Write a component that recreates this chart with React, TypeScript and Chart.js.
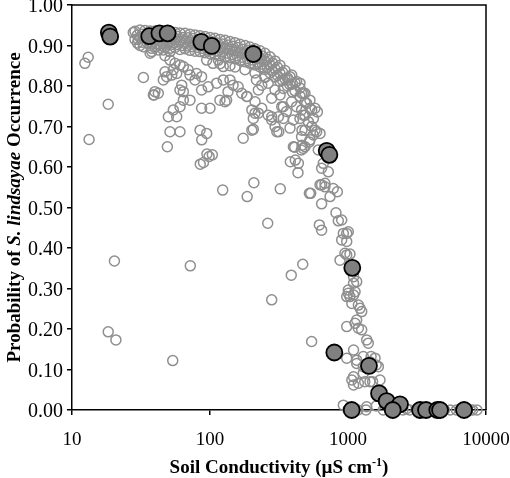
import React, { useEffect, useRef } from "react";
import { Chart, registerables } from "chart.js";

Chart.register(...registerables);

// Observed occurrence (filled circles): [conductivity µS/cm, probability]
const observedPoints: [number, number][] = [
  [18.5, 0.932], [18.9, 0.922], [36.3, 0.923], [43, 0.93], [49.3, 0.93],
  [86.5, 0.909], [103, 0.899], [206, 0.879], [701, 0.64], [733, 0.63],
  [1074, 0.351], [796, 0.142], [1419, 0.109], [1679, 0.041], [1906, 0.022],
  [2380, 0.014], [1064, 0.0], [2110, 0.0], [3327, 0.0], [3675, 0.0],
  [4436, 0.0], [4645, 0.0], [6934, 0.0],
];

// Predicted probabilities, dense upper band
const bandPoints: [number, number][] = [
  [28.6, 0.935], [28.6, 0.915], [31.1, 0.938], [31.1, 0.92], [31.1, 0.9],
  [33.8, 0.937], [33.8, 0.918], [36.8, 0.936], [36.8, 0.92], [36.8, 0.9],
  [39.9, 0.936], [39.9, 0.915], [39.9, 0.895], [43.4, 0.935], [43.4, 0.918],
  [43.4, 0.9], [47.2, 0.934], [47.2, 0.915], [47.2, 0.895], [47.2, 0.875],
  [51.3, 0.933], [51.3, 0.912], [51.3, 0.893], [55.8, 0.932], [55.8, 0.914],
  [55.8, 0.895], [60.6, 0.931], [60.6, 0.91], [60.6, 0.89], [65.9, 0.93],
  [65.9, 0.91], [65.9, 0.892], [71.6, 0.928], [71.6, 0.908], [71.6, 0.888],
  [77.9, 0.926], [77.9, 0.906], [77.9, 0.886], [84.6, 0.924], [84.6, 0.905],
  [84.6, 0.885], [92, 0.922], [92, 0.902], [92, 0.882], [100, 0.92],
  [100, 0.9], [100, 0.88], [108.7, 0.918], [108.7, 0.898], [108.7, 0.878],
  [118.2, 0.915], [118.2, 0.895], [118.2, 0.875], [118.2, 0.855], [128.5, 0.913],
  [128.5, 0.893], [128.5, 0.872], [139.6, 0.91], [139.6, 0.89], [139.6, 0.87],
  [139.6, 0.85], [151.8, 0.907], [151.8, 0.887], [151.8, 0.867], [151.8, 0.847],
  [165, 0.903], [165, 0.883], [165, 0.863], [179.3, 0.9], [179.3, 0.88],
  [179.3, 0.86], [179.3, 0.84], [195, 0.896], [195, 0.876], [195, 0.856],
  [211.9, 0.892], [211.9, 0.872], [211.9, 0.852], [211.9, 0.832], [230.3, 0.887],
  [230.3, 0.867], [230.3, 0.847], [250.4, 0.881], [250.4, 0.861], [250.4, 0.841],
  [250.4, 0.821], [272.2, 0.872], [272.2, 0.852], [272.2, 0.832], [295.8, 0.862],
  [295.8, 0.842], [295.8, 0.822], [321.6, 0.851], [321.6, 0.831], [321.6, 0.811],
  [349.6, 0.838], [349.6, 0.818], [379.9, 0.823], [379.9, 0.803], [413, 0.808],
  [413, 0.788], [449, 0.795], [449, 0.775], [488, 0.782], [488, 0.76],
  [530, 0.765], [530, 0.745], [577, 0.745], [600, 0.736],
];

// Predicted probabilities, infill of the upper band
const bandInfillPoints: [number, number][] = [
  [29.8, 0.926], [29.8, 0.906], [32.4, 0.928], [32.4, 0.908], [35.2, 0.927],
  [35.2, 0.907], [38.3, 0.926], [38.3, 0.906], [41.7, 0.926], [41.7, 0.905],
  [45.3, 0.925], [45.3, 0.905], [49.2, 0.924], [49.2, 0.903], [53.5, 0.923],
  [53.5, 0.903], [58.1, 0.922], [58.1, 0.902], [63.2, 0.92], [63.2, 0.9],
  [68.7, 0.919], [68.7, 0.899], [74.7, 0.917], [74.7, 0.897], [81.2, 0.915],
  [81.2, 0.895], [88.2, 0.913], [88.2, 0.893], [95.9, 0.911], [95.9, 0.891],
  [104.3, 0.909], [104.3, 0.889], [113.3, 0.906], [113.3, 0.886], [123.2, 0.904],
  [123.2, 0.884], [133.9, 0.901], [133.9, 0.881], [145.5, 0.898], [145.5, 0.878],
  [158.2, 0.895], [158.2, 0.875], [172, 0.891], [172, 0.871], [187, 0.888],
  [187, 0.868], [203, 0.884], [203, 0.864], [221, 0.879], [221, 0.859],
  [240, 0.874], [240, 0.854], [261, 0.866], [261, 0.846], [284, 0.857],
  [284, 0.837], [308, 0.846], [308, 0.826], [335, 0.834], [335, 0.814],
  [364, 0.82], [364, 0.8], [396, 0.805], [396, 0.785],
];

// Predicted probabilities, scattered below the band (low conductivity)
const scatterPoints: [number, number][] = [
  [12.4, 0.856], [13.1, 0.871], [13.3, 0.668], [18.3, 0.755], [27.8, 0.932],
  [30.2, 0.915], [32.9, 0.821], [32.9, 0.897], [39.3, 0.778], [42.2, 0.782],
  [37.8, 0.885], [37.8, 0.893], [42.2, 0.889], [36.8, 0.881], [45.9, 0.889],
  [51.3, 0.885], [51.3, 0.864], [55.8, 0.856], [60.6, 0.852], [54.2, 0.84],
  [47.2, 0.835], [48.5, 0.823], [52.8, 0.827], [57.4, 0.831], [45.9, 0.815],
  [62.4, 0.802], [60.6, 0.79], [64.1, 0.786], [39.9, 0.786], [38.9, 0.778],
  [64.1, 0.765], [71.6, 0.765], [60.6, 0.749], [57.4, 0.724], [49.9, 0.724],
  [54.2, 0.741], [64.1, 0.848], [69.4, 0.84], [71.6, 0.827], [80, 0.831],
  [77.9, 0.815], [86.9, 0.823], [94.6, 0.864], [105, 0.856], [115, 0.864],
  [124.8, 0.848], [86.9, 0.79], [97, 0.798], [111.7, 0.807], [124.8, 0.815],
  [118, 0.765], [132, 0.765], [86.9, 0.745], [100, 0.745], [51.3, 0.687],
  [60.6, 0.687], [49.1, 0.65], [84.7, 0.691], [87.1, 0.667], [94.6, 0.683],
  [85, 0.607], [89.7, 0.611], [95, 0.632], [98.5, 0.626], [104, 0.63],
  [123.6, 0.543], [186, 0.527], [208, 0.561], [174, 0.671], [206, 0.693],
  [186, 0.774], [139.6, 0.815], [147, 0.802], [135, 0.786], [160, 0.798],
  [170, 0.782], [128.5, 0.761], [184.5, 0.774], [212, 0.761], [201, 0.741],
  [224, 0.79], [237, 0.802], [217, 0.815], [250, 0.823], [264, 0.807],
  [296, 0.79], [322, 0.778], [340, 0.794], [280, 0.77], [331, 0.749],
  [313, 0.724], [358, 0.737], [340, 0.72], [224, 0.733], [206, 0.72],
  [264, 0.728], [280, 0.716], [201, 0.691], [296, 0.7], [305, 0.687],
  [340, 0.749], [237, 0.745], [212, 0.733], [280, 0.724], [262, 0.461],
  [315, 0.687], [323, 0.546], [411, 0.649], [464, 0.654], [459, 0.642],
  [525, 0.662], [382, 0.613], [415, 0.617], [434, 0.586], [525, 0.535],
  [20.3, 0.368], [72, 0.356], [470, 0.36], [388, 0.333], [18.3, 0.193],
  [20.8, 0.173], [53.7, 0.122], [280, 0.272], [545, 0.169], [391, 0.827],
  [369, 0.815], [424, 0.811], [461, 0.782], [402, 0.65], [437, 0.609],
];

// Predicted probabilities, steep decline and zero row (high conductivity)
const declinePoints: [number, number][] = [
  [390, 0.761], [424, 0.749], [461, 0.741], [488, 0.728], [449, 0.72],
  [516, 0.712], [546, 0.7], [577, 0.691], [488, 0.691], [402, 0.716],
  [380, 0.696], [461, 0.675], [561, 0.679], [627, 0.683], [449, 0.807],
  [474, 0.782], [502, 0.757], [546, 0.741], [474, 0.728], [561, 0.72],
  [593, 0.687], [464, 0.691], [531, 0.667], [488, 0.65], [474, 0.646],
  [609, 0.642], [644, 0.597], [720, 0.588], [662, 0.609], [627, 0.556],
  [681, 0.56], [782, 0.547], [644, 0.556], [681, 0.551], [537, 0.535],
  [741, 0.527], [837, 0.539], [644, 0.509], [818, 0.487], [851, 0.467],
  [900, 0.469], [620, 0.457], [644, 0.444], [925, 0.436], [979, 0.436],
  [900, 0.42], [979, 0.416], [950, 0.387], [1033, 0.385], [875, 0.37],
  [979, 0.383], [1005, 0.44], [1097, 0.329], [1156, 0.317], [1005, 0.296],
  [1125, 0.292], [1033, 0.28], [1066, 0.263], [1189, 0.259], [1222, 0.251],
  [979, 0.28], [1097, 0.313], [1005, 0.288], [1097, 0.284], [1257, 0.243],
  [1156, 0.222], [1189, 0.202], [1257, 0.198], [979, 0.206], [1125, 0.214],
  [1366, 0.173], [1403, 0.165], [1097, 0.148], [979, 0.128], [1156, 0.123],
  [1291, 0.132], [1470, 0.132], [1156, 0.115], [1291, 0.107], [1443, 0.119],
  [1570, 0.128], [1660, 0.107], [1600, 0.111], [1097, 0.082], [1291, 0.091],
  [1443, 0.07], [1706, 0.074], [1097, 0.062], [1066, 0.074], [1189, 0.066],
  [1322, 0.07], [1508, 0.07], [1706, 0.049], [1800, 0.03], [2000, 0.018],
  [2200, 0.012], [925, 0.012], [1366, 0.008], [1000, 0.0], [1180, 0.0],
  [1350, 0.0], [1600, 0.01], [1800, 0.0], [2000, 0.0], [2250, 0.007],
  [2500, 0.0], [2650, 0.003], [2800, 0.0], [3150, 0.0], [3300, 0.002],
  [3700, 0.0], [3900, 0.0], [4400, 0.0], [5000, 0.0], [5500, 0.0],
  [6100, 0.0], [6500, 0.0], [7700, 0.0], [8000, 0.0], [8600, 0.0],
];

const xTickValues = [10, 100, 1000, 10000];
const yTickStep = 0.1;

const SERIF = '"Liberation Serif", "Times New Roman", serif';

const toXY = (arr: [number, number][]) => arr.map(([x, y]) => ({ x, y }));

export default function App() {
  const ref = useRef<HTMLCanvasElement>(null);

  useEffect(() => {
    const canvas = ref.current;
    if (!canvas) return;

    const framePlugin = {
      id: "frameAndTitles",
      afterDraw(chart: any) {
        const { ctx, chartArea } = chart;
        const { left, right, top, bottom } = chartArea;
        ctx.save();
        ctx.strokeStyle = "#000";
        ctx.lineWidth = 1.5;
        ctx.beginPath();
        ctx.moveTo(left, top);
        ctx.lineTo(right, top);
        ctx.lineTo(right, bottom);
        ctx.stroke();

        // x title
        ctx.fillStyle = "#000";
        ctx.textBaseline = "alphabetic";
        const big = `bold 19px ${SERIF}`;
        const small = `bold 12px ${SERIF}`;
        const p1 = "Soil Conductivity (\u00b5S cm";
        const p2 = "-1";
        const p3 = ")";
        ctx.font = big;
        const w1 = ctx.measureText(p1).width;
        const w3 = ctx.measureText(p3).width;
        ctx.font = small;
        const w2 = ctx.measureText(p2).width;
        const total = w1 + w2 + w3;
        let xx = (left + right) / 2 - total / 2;
        const by = 473;
        ctx.textAlign = "left";
        ctx.font = big;
        ctx.fillText(p1, xx, by);
        xx += w1;
        ctx.font = small;
        ctx.fillText(p2, xx, by - 7);
        xx += w2;
        ctx.font = big;
        ctx.fillText(p3, xx, by);

        // y title
        const parts: [string, string][] = [
          ["Probability of ", `bold 19px ${SERIF}`],
          ["S. lindsayae", `italic bold 19px ${SERIF}`],
          [" Occurrence", `bold 19px ${SERIF}`],
        ];
        let tw = 0;
        const ws = parts.map(([t, f]) => {
          ctx.font = f;
          const w = ctx.measureText(t).width;
          tw += w;
          return w;
        });
        ctx.translate(20, (top + bottom) / 2);
        ctx.rotate(-Math.PI / 2);
        let px = -tw / 2;
        parts.forEach(([t, f], i) => {
          ctx.font = f;
          ctx.fillText(t, px, 0);
          px += ws[i];
        });
        ctx.restore();
      },
    };

    const chart = new Chart(canvas, {
      type: "scatter",
      data: {
        datasets: [
          {
            label: "Observed",
            data: toXY(observedPoints),
            pointRadius: 8,
            pointHoverRadius: 8,
            backgroundColor: "#808080",
            borderColor: "#000",
            borderWidth: 1.8,
            order: 0,
            clip: false,
          },
          {
            label: "Predicted",
            data: toXY([...bandPoints, ...bandInfillPoints, ...scatterPoints, ...declinePoints]),
            pointRadius: 5,
            pointHoverRadius: 5,
            backgroundColor: "rgba(0,0,0,0)",
            borderColor: "#8f8f8f",
            borderWidth: 1.5,
            order: 1,
            clip: false,
          },
        ],
      },
      options: {
        responsive: false,
        animation: false,
        layout: { autoPadding: false, padding: { left: 0, top: 5, right: 24, bottom: 0 } },
        plugins: {
          legend: { display: false },
          tooltip: { enabled: false },
        },
        scales: {
          x: {
            type: "logarithmic",
            min: 10,
            max: 10000,
            afterBuildTicks: (scale: any) => {
              scale.ticks = xTickValues.map((v) => ({ value: v, major: true }));
            },
            afterFit: (scale: any) => {
              scale.height = 68;
              scale.paddingLeft = 0;
              scale.paddingRight = 0;
            },
            ticks: {
              color: "#000",
              font: { family: SERIF, size: 19 },
              padding: 14,
              maxRotation: 0,
              autoSkip: false,
              callback: (v: any) => String(v),
            },
            grid: {
              drawOnChartArea: false,
              drawTicks: true,
              tickLength: 5,
              color: "#000",
              lineWidth: 1.5,
            },
            border: { display: true, color: "#000", width: 1.5 },
          },
          y: {
            min: 0,
            max: 1,
            afterFit: (scale: any) => {
              scale.width = 72;
              scale.paddingTop = 0;
              scale.paddingBottom = 0;
            },
            ticks: {
              stepSize: yTickStep,
              color: "#000",
              font: { family: SERIF, size: 20 },
              padding: 4,
              labelOffset: 2,
              callback: (v: any) => Number(v).toFixed(2),
            },
            grid: {
              drawOnChartArea: false,
              drawTicks: true,
              tickLength: 5,
              color: "#000",
              lineWidth: 1.5,
            },
            border: { display: true, color: "#000", width: 1.5 },
          },
        },
      },
      plugins: [framePlugin],
    } as any);

    return () => chart.destroy();
  }, []);

  return (
    <div style={{ position: "absolute", left: 0, top: 0, width: 510, height: 478, background: "#fff" }}>
      <canvas ref={ref} width={510} height={478} />
    </div>
  );
}
